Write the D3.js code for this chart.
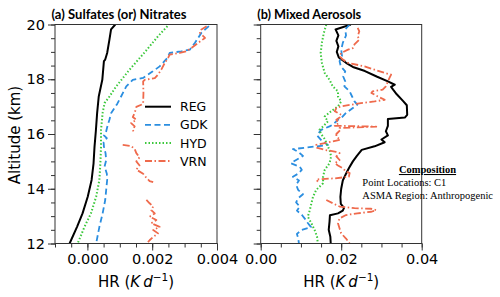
<!DOCTYPE html>
<html lang="en">
<head>
<meta charset="utf-8">
<title>Heating rate profiles</title>
<script src="https://cdnjs.cloudflare.com/ajax/libs/d3/7.8.5/d3.min.js"></script>
<style>
  body { margin: 0; background: #fff; }
  svg { display: block; }
  .tick text { font-family: "DejaVu Sans", sans-serif; font-size: 14.5px; fill: #000; }
  .tick line { stroke: #333; }
  .frame { fill: none; stroke: #333; stroke-width: 1; }
</style>
</head>
<body>
<svg id="chart" width="500" height="297"></svg>
<script>
// altitude (km) / heating rate (K/d) pairs; null = gap in the profile
var altTicks = [12, 14, 16, 18, 20];
var xTicksA = [0, 0.002, 0.004];
var xTicksB = [0, 0.02, 0.04];
var names = ["REG", "GDK", "HYD", "VRN"];

// (a) Sulfates (or) Nitrates
var regA = [[20.0,0.00086],[19.82,0.00073],[19.45,0.00068],[18.96,0.00061],[18.72,0.00055],[18.66,0.00051],[17.98,0.00046],
  [17.37,0.00035],[16.76,0.0003],[16.1,0.00026],[15.54,0.00022],[14.93,0.00019],[14.32,0.00013],[13.71,0.00001],
  [13.1,-0.00015],[12.61,-0.00032],[12.0,-0.00055]];
var gdkA = [[19.94,0.00375],[19.7,0.00352],[19.33,0.00332],[19.08,0.00316],[19.02,0.0029],[18.96,0.00254],[18.78,0.00247],
  [18.47,0.00223],[18.29,0.00202],[18.05,0.00172],[17.98,0.0014],[17.74,0.0012],[17.37,0.00104],[17.1,0.00092],
  [16.76,0.00073],[16.52,0.00068],[16.34,0.00063],[16.1,0.00058],[15.95,0.00051],[15.85,0.0006],[15.7,0.0005],
  [15.54,0.00051],[15.3,0.00056],[15.05,0.00058],[14.81,0.00053],[14.55,0.0006],[14.32,0.00061],[13.96,0.00058],
  [13.59,0.00055],[13.1,0.00047],[12.61,0.00037],[12.0,0.00027]];
var hydA = [[19.94,0.00247],[19.57,0.00218],[18.96,0.00175],[18.35,0.0013],[17.74,0.00089],[17.37,0.00068],[17.13,0.00053],
  [16.77,0.00047],[16.15,0.00042],[15.54,0.00042],[14.93,0.0004],[14.32,0.00037],[13.71,0.00027],[13.1,0.00011],
  [12.61,-0.00009],[12.0,-0.0003]];
var vrnA = [[19.94,0.00368],[19.82,0.00352],[19.7,0.00347],[19.51,0.00363],[19.33,0.00342],[19.15,0.00322],[19.02,0.00306],
  [18.96,0.00285],[18.9,0.00254],[18.78,0.00249],[18.6,0.00239],[18.35,0.00228],[18.17,0.00218],[18.04,0.00208],
  [17.98,0.00177],[17.92,0.00172],[17.5,0.00173],[17.1,0.00172],[16.99,0.00151],[16.77,0.00146],[16.62,0.0014],
  [16.52,0.00151],[16.4,0.00135],[16.28,0.00146],[16.15,0.0014],[16.08,0.00143],
  null,
  [15.6,0.00109],[15.56,0.00135],[15.45,0.00146],[15.3,0.00151],[15.15,0.00161],[15.0,0.00151],[14.85,0.00161],
  [14.7,0.00151],[14.55,0.00172],[14.4,0.00182],[14.28,0.00192],[14.24,0.00203],
  null,
  [13.59,0.00182],[13.47,0.00192],[13.35,0.00203],[13.22,0.00197],[13.1,0.00208],[12.98,0.00192],[12.86,0.00213],
  [12.74,0.00197],[12.61,0.00223],[12.49,0.00203],[12.37,0.00218],[12.24,0.00203],[12.12,0.00192],[12.05,0.00187]];

// (b) Mixed Aerosols
var regB = [[20.0,0.0224],[19.82,0.0186],[19.6,0.0193],[19.4,0.0188],[19.2,0.0193],[19.0,0.0189],[18.8,0.0194],[18.6,0.0212],
  [18.45,0.0229],[18.3,0.0259],[18.1,0.0288],[17.92,0.0316],[17.8,0.0333],[17.72,0.0324],[17.62,0.0329],[17.45,0.0338],
  [17.2,0.0354],[17.05,0.0363],[16.7,0.0364],[16.6,0.0358],[16.55,0.0316],[16.3,0.0316],[16.1,0.0311],[15.95,0.0316],
  [15.8,0.03],[15.7,0.0308],[15.55,0.0283],[15.42,0.0251],[15.2,0.0239],[15.0,0.0229],[14.75,0.0219],[14.55,0.0212],
  [14.3,0.0204],[14.0,0.02],[13.7,0.0198],[13.45,0.0199],[13.3,0.0207],[13.2,0.0204],[13.1,0.0192],[13.03,0.0172],
  [12.8,0.0171],[12.5,0.0169],[12.25,0.0173],[12.0,0.0174]];
var gdkB = [[20.0,0.0221],[19.82,0.021],[19.6,0.0212],[19.33,0.0204],[19.08,0.02],[18.85,0.0202],[18.66,0.0196],[18.47,0.0199],
  [18.29,0.021],[18.1,0.0205],[17.92,0.021],[17.74,0.0208],[17.56,0.0221],[17.37,0.0227],[17.19,0.0233],[17.07,0.024],
  [16.95,0.0229],[16.77,0.0212],[16.58,0.02],[16.52,0.0192],[16.34,0.0179],[16.28,0.0171],[16.15,0.015],[15.95,0.014],
  [15.75,0.0152],[15.6,0.0167],[15.5,0.0112],[15.45,0.008],[15.35,0.0093],[15.2,0.0105],[15.05,0.0088],[14.93,0.0075],
  [14.8,0.0097],[14.69,0.0102],[14.55,0.0093],[14.44,0.008],[14.3,0.0095],[14.15,0.0088],[13.96,0.0093],[13.8,0.0105],
  [13.65,0.0093],[13.5,0.0088],[13.35,0.0097],[13.2,0.009],[13.05,0.0102],[12.9,0.011],[12.75,0.0117],[12.6,0.0125],
  [12.5,0.0102],[12.35,0.009],[12.2,0.0093],[12.0,0.0095]];
var hydB = [[20.0,0.0163],[19.7,0.0157],[19.33,0.0152],[18.96,0.0149],[18.6,0.0152],[18.23,0.0159],[17.98,0.0171],[17.74,0.0179],
  [17.56,0.0192],[17.37,0.0192],[17.19,0.02],[17.01,0.0192],[16.83,0.0175],[16.64,0.0159],[16.46,0.0167],[16.28,0.0155],
  [16.15,0.0146],[16.0,0.015],[15.8,0.016],[15.6,0.0165],[15.42,0.0171],[15.18,0.0175],[14.93,0.0171],[14.69,0.0159],
  [14.44,0.0155],[14.2,0.0155],[13.96,0.0138],[13.71,0.013],[13.47,0.0126],[13.22,0.0122],[12.98,0.0117],[12.74,0.0126],
  [12.49,0.0134],[12.25,0.014],[12.0,0.0142]];
var vrnB = [[19.88,0.0241],[19.75,0.0245],[19.57,0.0241],[19.45,0.0245],[19.27,0.0233],[19.14,0.0229],[19.08,0.0217],
  [18.96,0.02],[18.84,0.0196],[18.72,0.0204],[18.6,0.0217],[18.47,0.0258],[18.35,0.0283],[18.23,0.0308],[18.17,0.0324],
  [18.05,0.032],[17.92,0.0316],[17.74,0.0311],[17.62,0.0303],[17.56,0.0278],[17.5,0.0275],[17.37,0.0291],[17.25,0.0308],
  [17.19,0.0283],[17.13,0.0249],[17.07,0.0225],[17.01,0.02],[16.95,0.0188],[16.83,0.0184],[16.7,0.02],[16.6,0.0196],
  [16.52,0.0188],[16.4,0.0194],[16.3,0.0184],[16.27,0.0287],[16.22,0.0196],[16.15,0.0198],[16.0,0.0188],[15.9,0.0188],
  [15.79,0.0198],[15.67,0.0159],[15.6,0.0138],[15.5,0.0138],[15.42,0.0159],[15.36,0.0184],[15.3,0.0196],[15.18,0.0188],
  [15.05,0.0196],[14.93,0.0184],[14.85,0.0192],[14.75,0.0204],[14.63,0.0212],[14.57,0.0221],[14.44,0.0219],[14.38,0.0184],
  [14.34,0.0138],[14.26,0.0142],
  null,
  [13.59,0.0163],[13.47,0.0179],[13.35,0.0196],[13.29,0.0233],[13.27,0.0274],[13.22,0.0287],[13.16,0.0275],[13.1,0.024],
  [13.04,0.0212],[12.92,0.0196],[12.74,0.0192],[12.55,0.0196],[12.37,0.02],[12.18,0.0212],[12.0,0.0221]];

var styles = {
  REG: { color: "#000000", width: 2, dash: null },
  GDK: { color: "#2b8ee0", width: 1.8, dash: "6,3.5" },
  HYD: { color: "#3cc83c", width: 2, dash: "1.5,2" },
  VRN: { color: "#ef6a4c", width: 1.8, dash: "7,2.5,1.5,2.5" }
};

var svg = d3.select("#chart");
var plotTop = 24.5, plotBottom = 243.5;

var y = d3.scaleLinear().domain([12, 20]).range([plotBottom, plotTop]);

function drawPanel(id, left, right, xDomain, xTicks, minorX, fmt, showY, data, title, titleLen) {
  var x = d3.scaleLinear().domain(xDomain).range([left, right]);
  var g = svg.append("g");

  g.append("clipPath").attr("id", "clip" + id)
    .append("rect").attr("x", left).attr("y", plotTop).attr("width", right - left).attr("height", plotBottom - plotTop);

  // minor ticks
  g.append("g").attr("transform", "translate(0," + plotBottom + ")")
    .call(d3.axisBottom(x).tickValues(minorX).tickSize(4).tickFormat(""))
    .call(function(s) { s.select(".domain").remove(); });
  g.append("g").attr("transform", "translate(" + left + ",0)")
    .call(d3.axisLeft(y).tickValues(d3.range(12, 20.01, 0.5)).tickSize(4).tickFormat(""))
    .call(function(s) { s.select(".domain").remove(); });

  // major ticks
  g.append("g").attr("transform", "translate(0," + plotBottom + ")")
    .call(d3.axisBottom(x).tickValues(xTicks).tickSize(7).tickPadding(3).tickFormat(d3.format(fmt)))
    .call(function(s) { s.select(".domain").remove(); });
  var ya = d3.axisLeft(y).tickValues(altTicks).tickSize(7).tickPadding(3);
  if (!showY) ya.tickFormat("");
  g.append("g").attr("transform", "translate(" + left + ",0)")
    .call(ya)
    .call(function(s) { s.select(".domain").remove(); });

  var line = d3.line()
    .defined(function(d) { return d !== null; })
    .x(function(d) { return x(d[1]); })
    .y(function(d) { return y(d[0]); });

  var lines = g.append("g").attr("clip-path", "url(#clip" + id + ")");
  names.forEach(function(n) {
    var st = styles[n];
    lines.append("path")
      .attr("d", line(data[n]))
      .attr("fill", "none")
      .attr("stroke", st.color)
      .attr("stroke-width", st.width)
      .attr("stroke-dasharray", st.dash)
      .attr("stroke-linejoin", "round");
  });

  g.append("rect").attr("class", "frame")
    .attr("x", left).attr("y", plotTop).attr("width", right - left).attr("height", plotBottom - plotTop);

  g.append("text")
    .attr("x", left - 3.5).attr("y", 18.5)
    .attr("font-family", "Lato, 'Open Sans', sans-serif")
    .attr("font-weight", "bold")
    .attr("font-size", 13)
    .attr("textLength", titleLen)
    .attr("lengthAdjust", "spacingAndGlyphs")
    .text(title);

  var lab = g.append("text")
    .attr("x", (left + right) / 2).attr("y", 287)
    .attr("text-anchor", "middle")
    .attr("font-family", "DejaVu Sans, sans-serif")
    .attr("font-size", 15);
  lab.append("tspan").text("HR (");
  lab.append("tspan").attr("font-style", "italic").text("K");
  lab.append("tspan").attr("font-style", "italic").attr("dx", 3).text("d");
  lab.append("tspan").attr("font-size", 10.5).attr("dy", -6).text("\u22121");
  lab.append("tspan").attr("dy", 6).text(")");

  return x;
}

drawPanel("a", 55, 217, [-0.001, 0.004], xTicksA, d3.range(-0.001, 0.00401, 0.0005), ".3f", true,
  { REG: regA, GDK: gdkA, HYD: hydA, VRN: vrnA }, "(a) Sulfates (or) Nitrates", 135);
drawPanel("b", 260.7, 421.7, [0, 0.04], xTicksB, d3.range(0, 0.0401, 0.005), ".2f", false,
  { REG: regB, GDK: gdkB, HYD: hydB, VRN: vrnB }, "(b) Mixed Aerosols", 104);

// y label
svg.append("text")
  .attr("transform", "translate(19.5,135) rotate(-90)")
  .attr("text-anchor", "middle")
  .attr("font-family", "DejaVu Sans, sans-serif")
  .attr("font-size", 15)
  .text("Altitude (km)");

// legend in panel (a)
var leg = svg.append("g");
names.forEach(function(n, i) {
  var st = styles[n];
  var ly = 106.7 + i * 18.1;
  leg.append("line")
    .attr("x1", 145).attr("x2", 171).attr("y1", ly).attr("y2", ly)
    .attr("stroke", st.color).attr("stroke-width", st.width)
    .attr("stroke-dasharray", st.dash);
  leg.append("text")
    .attr("x", 180).attr("y", ly + 4.6)
    .attr("font-family", "DejaVu Sans, sans-serif")
    .attr("font-size", 12.5)
    .text(n);
});

// composition note
var note = svg.append("g").attr("font-family", "Liberation Serif, 'Times New Roman', serif").attr("font-size", 10.5);
note.append("text").attr("x", 427.5).attr("y", 173).attr("text-anchor", "middle")
  .attr("font-weight", "bold").attr("text-decoration", "underline").text("Composition");
note.append("text").attr("x", 362.3).attr("y", 186).text("Point Locations: C1");
note.append("text").attr("x", 362.3).attr("y", 198.5).text("ASMA Region: Anthropogenic");
</script>
</body>
</html>
